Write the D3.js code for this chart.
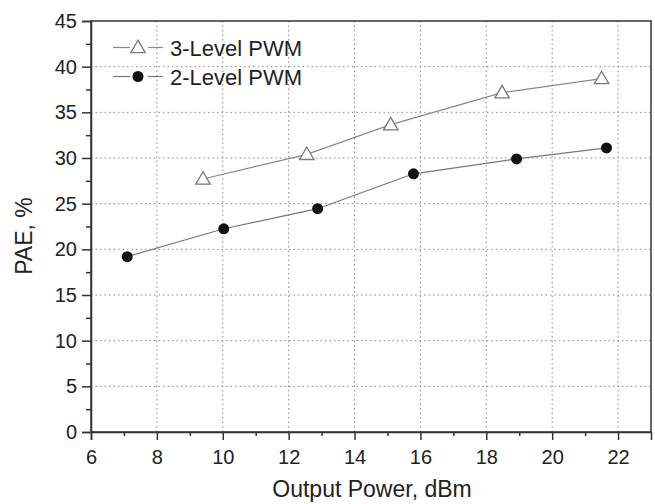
<!DOCTYPE html>
<html>
<head>
<meta charset="utf-8">
<script src="https://cdn.jsdelivr.net/npm/d3@7"></script>
<style>
  body { margin: 0; background: #fff; }
  text { font-family: "Liberation Sans", Arial, sans-serif; fill: #222; }
</style>
</head>
<body>
<div id="chart"></div>
<script>
// data
var pwm3X = [9.4, 12.55, 15.1, 18.48, 21.5];
var pwm3Y = [27.7, 30.4, 33.65, 37.15, 38.7];
var pwm2X = [7.1, 10.03, 12.88, 15.79, 18.92, 21.65];
var pwm2Y = [19.2, 22.25, 24.45, 28.27, 29.9, 31.1];
var xTicks = [6, 8, 10, 12, 14, 16, 18, 20, 22];
var yTicks = [0, 5, 10, 15, 20, 25, 30, 35, 40, 45];
var legendLabels = ["3-Level PWM", "2-Level PWM"];

var margin = { top: 21, right: 4, bottom: 72, left: 91 },
    width = 655 - margin.left - margin.right,
    height = 504 - margin.top - margin.bottom;

var svg = d3.select("#chart")
    .append("svg")
    .attr("width", 655)
    .attr("height", 504)
    .append("g")
    .attr("transform", "translate(" + margin.left + "," + margin.top + ")");

var x = d3.scaleLinear().domain([6, 23]).range([0, width]);
var y = d3.scaleLinear().domain([0, 45]).range([height, 0]);

// grid
svg.append("g").selectAll("line")
    .data(xTicks.filter(d => d > 6))
    .enter().append("line")
    .attr("x1", d => x(d)).attr("x2", d => x(d))
    .attr("y1", 0).attr("y2", height)
    .attr("stroke", "#888").attr("stroke-width", 1)
    .attr("stroke-dasharray", "1.5,3");
svg.append("g").selectAll("line")
    .data(yTicks.filter(d => d > 0 && d < 45))
    .enter().append("line")
    .attr("y1", d => y(d)).attr("y2", d => y(d))
    .attr("x1", 0).attr("x2", width)
    .attr("stroke", "#888").attr("stroke-width", 1)
    .attr("stroke-dasharray", "1.5,3");

// frame
svg.append("rect")
    .attr("width", width).attr("height", height)
    .attr("fill", "none").attr("stroke", "#333").attr("stroke-width", 1.5);

// minor ticks
var xMinor = d3.range(7, 23, 2);
var yMinor = d3.range(2.5, 45, 5);

svg.append("g").attr("class", "ax")
    .attr("transform", "translate(0," + height + ")")
    .call(d3.axisBottom(x).tickValues(xTicks).tickSize(8).tickPadding(10).tickFormat(d3.format("d")));
svg.append("g")
    .attr("transform", "translate(0," + height + ")")
    .call(d3.axisBottom(x).tickValues(xMinor).tickSize(4).tickFormat(""))
    .select(".domain").remove();

svg.append("g").attr("class", "ax")
    .call(d3.axisLeft(y).tickValues(yTicks).tickSize(9).tickPadding(5).tickFormat(d3.format("d")));
svg.append("g")
    .call(d3.axisLeft(y).tickValues(yMinor).tickSize(5).tickFormat(""))
    .select(".domain").remove();

svg.selectAll(".ax")
    .attr("font-size", 20)
    .attr("font-family", "'Liberation Sans', Arial, sans-serif");
svg.selectAll(".domain").attr("stroke", "#333").attr("stroke-width", 1.5);
svg.selectAll(".tick line").attr("stroke", "#333").attr("stroke-width", 1.5);
svg.selectAll(".tick text").attr("fill", "#222");

// axis titles
svg.append("text")
    .attr("x", 372 - margin.left)
    .attr("y", 497 - margin.top)
    .attr("text-anchor", "middle")
    .style("font-size", "23px")
    .text("Output Power, dBm");
svg.append("text")
    .attr("transform", "translate(" + (32 - margin.left) + "," + (236 - margin.top) + ")rotate(-90)")
    .attr("text-anchor", "middle")
    .style("font-size", "23px")
    .text("PAE, %");

// series
var pts3 = pwm3X.map((d, i) => [d, pwm3Y[i]]);
var pts2 = pwm2X.map((d, i) => [d, pwm2Y[i]]);
var line = d3.line().x(d => x(d[0])).y(d => y(d[1]));

svg.append("path").datum(pts3)
    .attr("d", line).attr("fill", "none")
    .attr("stroke", "#888").attr("stroke-width", 1.2);
svg.append("path").datum(pts2)
    .attr("d", line).attr("fill", "none")
    .attr("stroke", "#777").attr("stroke-width", 1.2);

var tri = d3.symbol().type(d3.symbolTriangle).size(90);
svg.selectAll(".tri").data(pts3).enter().append("path")
    .attr("transform", d => "translate(" + x(d[0]) + "," + (y(d[1]) + 1) + ")")
    .attr("d", tri)
    .attr("fill", "#fff").attr("stroke", "#777").attr("stroke-width", 1.3);

svg.selectAll(".dot").data(pts2).enter().append("circle")
    .attr("cx", d => x(d[0])).attr("cy", d => y(d[1]))
    .attr("r", 5.5).attr("fill", "#111");

// legend
var lg = svg.append("g").attr("transform", "translate(22,26.5)");
legendLabels.forEach(function (label, i) {
    var row = lg.append("g").attr("transform", "translate(0," + (i * 29) + ")");
    var c = i === 0 ? "#888" : "#777";
    row.append("line").attr("x1", 0).attr("x2", 17).attr("y1", 0).attr("y2", 0)
        .attr("stroke", c).attr("stroke-width", 1.2);
    row.append("line").attr("x1", 35).attr("x2", 50).attr("y1", 0).attr("y2", 0)
        .attr("stroke", c).attr("stroke-width", 1.2);
    if (i === 0) {
        row.append("path").attr("d", tri).attr("transform", "translate(25,1)")
            .attr("fill", "#fff").attr("stroke", "#777").attr("stroke-width", 1.3);
    } else {
        row.append("circle").attr("cx", 25).attr("cy", 0).attr("r", 5.5).attr("fill", "#111");
    }
    row.append("text").attr("x", 57).attr("y", 8)
        .style("font-size", "22px").text(label);
});
</script>
</body>
</html>
